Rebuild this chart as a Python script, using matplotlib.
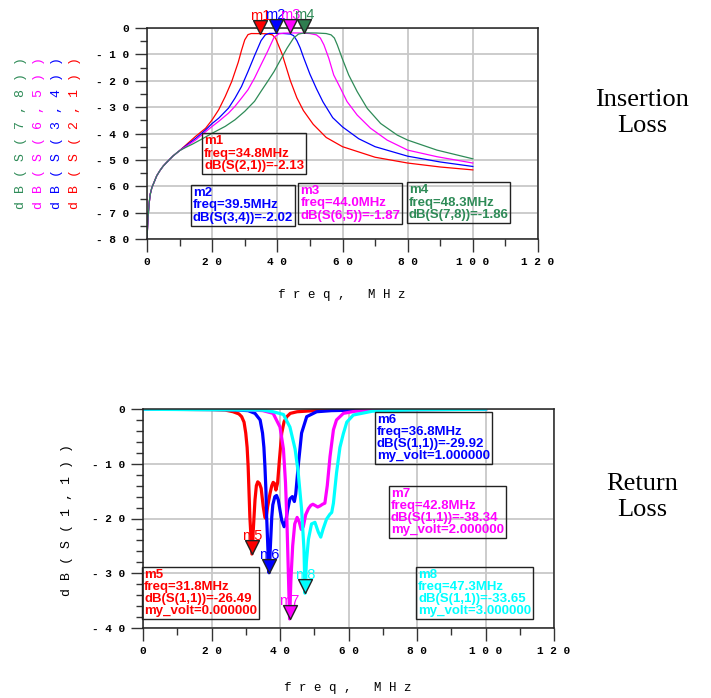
import matplotlib
matplotlib.use("Agg")
import matplotlib.pyplot as plt

# ---- insertion loss traces, freq in MHz, values in dB ----
f_low = [0, 0.3, 0.7, 1, 1.5, 2, 3, 4, 5, 6, 8, 10]
db_low = [-80, -72, -66, -63, -60.5, -59, -56, -54, -52.3, -51, -48.5, -46.5]

f_s21 = f_low + [12, 15, 18, 20, 22, 24, 26, 28, 29, 30, 31, 32, 34.8, 37, 38.5,
                 39.5, 40.5, 41.5, 42.5, 44, 46, 48, 51, 55, 60, 65, 70, 80, 90, 100]
db_s21 = db_low + [-44.3, -41, -38, -34.8, -31, -26, -20.3, -13, -8.5, -4.5, -2.5, -2.1,
                   -2.13, -2.2, -2.6, -4, -7, -10, -14, -20, -26.5, -31.3, -36.5, -41.5,
                   -45, -47, -49, -51.2, -52.7, -53.8]

f_s34 = f_low + [12, 15, 18, 20, 22, 25, 27, 29, 31, 33, 35, 36.3, 37.5, 39.5, 42, 44,
                 45, 46, 47, 48, 50, 52, 54, 57, 60, 65, 70, 80, 90, 100]
db_s34 = db_low + [-44.6, -41.8, -38.6, -36.2, -34.2, -30.4, -26.6, -22.2, -16.5, -10.5,
                   -4.8, -2.6, -2.05, -2.02, -2.1, -2.3, -2.9, -4.8, -7.5, -11, -17.5, -23,
                   -28, -34, -37.5, -42, -45, -48.6, -50.8, -52.5]

f_s65 = f_low + [12, 15, 17, 20, 22, 25, 27, 29, 31, 33, 35, 37, 39, 40.5, 42, 44, 47,
                 50, 52, 53.2, 54.3, 55.8, 57.3, 59.4, 61.4, 64.5, 68.6, 73.7, 80, 89, 100]
db_s65 = db_low + [-44.9, -42.4, -40.3, -37.3, -35.4, -32.3, -29.7, -26.6, -23.4, -19,
                   -13.9, -8.9, -3.5, -2.2, -1.95, -1.87, -1.9, -2.1, -2.6, -3.8, -6.4,
                   -11.5, -17.8, -22.9, -27.9, -33, -38, -42.5, -46.3, -48.8, -51.2]

f_s78 = f_low + [12, 14, 17, 20, 24, 27, 30, 33, 35, 37, 39, 41, 43, 45, 46.5, 48.3, 52,
                 55, 56.5, 57.5, 58.4, 59.9, 61.9, 64.5, 67.6, 71.7, 76.8, 80, 89, 100]
db_s78 = db_low + [-45.2, -44, -42, -39.9, -37.3, -34.8, -31.6, -27.8, -24, -20.3, -16.5,
                   -12, -7.6, -3.8, -2.3, -1.86, -1.9, -2.1, -2.6, -3.8, -6.4, -11.5, -17.8,
                   -24.1, -30.5, -36.2, -40.6, -42.5, -46.3, -49.6]

# ---- return loss traces dB(S(1,1)) for my_volt = 0, 1, 2, 3 ----
f_v0 = [0, 20, 24, 26.3, 28, 28.8, 29.5, 30, 30.4, 30.7, 31.2, 31.8, 32.3, 32.7, 33.1,
        33.5, 34, 34.5, 35.1, 35.6, 35.9, 36.4, 37.1, 37.6, 38, 38.4, 38.8, 39.3, 39.8,
        40.5, 41.2, 42, 43, 45, 50, 60, 100]
db_v0 = [-0.05, -0.1, -0.2, -0.5, -0.9, -1.4, -2.4, -4.4, -7, -10.5, -19.7, -26.49, -21,
         -16.6, -14, -13.3, -13.6, -14.5, -17.8, -19.8, -20, -17.8, -15.4, -14, -13.4,
         -13.6, -14.8, -13.5, -9.5, -4.4, -2.3, -1.4, -0.8, -0.5, -0.3, -0.15, -0.05]

f_v1 = [0, 25, 30.7, 32.7, 34.2, 34.9, 35.3, 35.6, 35.9, 36.1, 36.5, 36.8, 37.2, 37.6,
        37.9, 38.5, 39, 39.5, 40, 40.5, 41.2, 41.7, 42.2, 42.9, 43.6, 44.2, 44.6, 45.3,
        46.3, 47.8, 50.7, 55, 70, 100]
db_v1 = [-0.05, -0.1, -0.3, -0.8, -2, -4.4, -7, -10.5, -15, -19.7, -26, -29.92, -25,
         -19.7, -17.5, -16, -15.8, -16.6, -18.5, -20.3, -21.5, -20.5, -18.5, -16.4, -16,
         -16.9, -15.5, -10.5, -4.4, -1.4, -0.5, -0.3, -0.1, -0.05]

f_v2 = [0, 30, 35, 38, 40, 41, 41.6, 42, 42.4, 42.8, 43.2, 43.7, 44.3, 45, 45.6, 46.2,
        46.8, 47.5, 48.3, 49, 49.6, 50.2, 51, 51.7, 52.4, 53.1, 53.8, 54.6, 55.6, 56.5,
        58.5, 62, 70, 100]
db_v2 = [-0.05, -0.1, -0.3, -0.8, -3.3, -7.3, -13.4, -20, -29, -38.34, -31, -25, -21,
         -19.8, -20.6, -22, -21.5, -19.3, -18.2, -17.6, -17.4, -17.6, -17.9, -17.7, -17.4,
         -17.2, -14, -8.7, -3.8, -2, -0.8, -0.4, -0.15, -0.05]

f_v3 = [0, 35, 38, 41, 42.9, 44.4, 45.3, 46.3, 47, 47.3, 47.7, 48.3, 49.2, 50.2, 51.2,
        51.9, 52.6, 53.6, 54.6, 55.1, 55.6, 56.5, 57.5, 58.5, 59.5, 61.4, 67, 80, 100]
db_v3 = [-0.05, -0.2, -0.5, -1.0, -3.3, -7.3, -11.5, -18.3, -25.6, -33.65, -28, -23.8,
         -21, -20.7, -22.5, -23.4, -21.9, -20.1, -19.2, -18.9, -17.2, -11.7, -7, -4.5,
         -2.4, -1.1, -0.4, -0.15, -0.05]

# marker readouts
il_names = ["m1", "m2", "m3", "m4"]
il_traces = ["dB(S(2,1))", "dB(S(3,4))", "dB(S(6,5))", "dB(S(7,8))"]
il_freq = [34.8, 39.5, 44.0, 48.3]
il_val = [-2.13, -2.02, -1.87, -1.86]

rl_names = ["m5", "m6", "m7", "m8"]
rl_freq = [31.8, 36.8, 42.8, 47.3]
rl_val = [-26.49, -29.92, -38.34, -33.65]
my_volt = [0, 1, 2, 3]

x_ticks = [0, 20, 40, 60, 80, 100, 120]
x_ticklabels = ["0", "2 0", "4 0", "6 0", "8 0", "1 0 0", "1 2 0"]
il_yticks = [0, -10, -20, -30, -40, -50, -60, -70, -80]
il_yticklabels = ["0", "- 1 0", "- 2 0", "- 3 0", "- 4 0", "- 5 0", "- 6 0", "- 7 0", "- 8 0"]
rl_yticks = [0, -10, -20, -30, -40]
rl_yticklabels = ["0", "- 1 0", "- 2 0", "- 3 0", "- 4 0"]

RED, BLUE, MAG, GRN, CYN = "#ff0000", "#0000ff", "#ff00ff", "#2e8b57", "#00ffff"
il_colors = [RED, BLUE, MAG, GRN]
rl_colors = [RED, BLUE, MAG, CYN]

mono = "Liberation Mono"
sans = "Liberation Sans"

fig = plt.figure(figsize=(7.11, 6.98), dpi=100)
ax1 = fig.add_axes([147 / 711, 1 - 239 / 698, 391 / 711, 211 / 698])
ax2 = fig.add_axes([143 / 711, 1 - 628 / 698, 411 / 711, 219 / 698])


def style(ax, yticks, ylabels, yminor):
    ax.set_xlim(0, 120)
    ax.set_ylim(yticks[-1], 0)
    ax.set_xticks(x_ticks)
    ax.set_xticklabels(x_ticklabels, fontfamily=mono, fontweight="bold", fontsize=8)
    ax.set_xticks(range(0, 121, 10), minor=True)
    ax.set_yticks(yticks)
    ax.set_yticklabels(ylabels, fontfamily=mono, fontweight="bold", fontsize=8)
    ax.set_yticks(yminor, minor=True)
    ax.grid(which="major", color="#c8c8c8", lw=1.3)
    ax.tick_params(which="major", direction="out", length=9, width=1, pad=4, color="#333")
    ax.tick_params(which="minor", direction="out", length=5, width=1, color="#333")
    for s in ax.spines.values():
        s.set_color("#222")
        s.set_linewidth(1.1)


style(ax1, il_yticks, il_yticklabels, range(-80, 1, 5))
style(ax2, rl_yticks, rl_yticklabels, range(-40, 1, 2))

# traces
for f, d, c in zip([f_s21, f_s34, f_s65, f_s78], [db_s21, db_s34, db_s65, db_s78], il_colors):
    ax1.plot(f, d, color=c, lw=0.9)
for f, d, c in zip([f_v0, f_v1, f_v2, f_v3], [db_v0, db_v1, db_v2, db_v3], rl_colors):
    ax2.plot(f, d, color=c, lw=2.3)

# down triangle with its tip on the data point
tri = [(0, 0), (-0.5, 1), (0.5, 1), (0, 0)]


def marker(ax, f, v, color, name, face=None):
    ax.plot([f], [v], marker=tri, ms=20, mfc=face or color, mec="#222", mew=1,
            clip_on=False, zorder=6)
    ax.annotate(name, (f, v), xytext=(0, 8), textcoords="offset points", ha="center",
                va="bottom", color=color, fontsize=10.5, fontfamily=sans,
                annotation_clip=False, zorder=7)


for i in range(4):
    face = "#2e7d4f" if i == 3 else None
    marker(ax1, il_freq[i], il_val[i], il_colors[i], il_names[i], face)
    marker(ax2, rl_freq[i], rl_val[i], rl_colors[i], rl_names[i])

# readout boxes (top-left corner in data coords)
il_box = [(17.5, -40.6), (14.1, -60.2), (47.1, -59.5), (80.3, -59.2)]
for i in range(4):
    txt = f"{il_names[i]}\nfreq={il_freq[i]:.1f}MHz\n{il_traces[i]}={il_val[i]:.2f}"
    ax1.text(il_box[i][0], il_box[i][1], txt, color=il_colors[i], fontsize=9.5,
             fontweight="bold", fontfamily=sans, ha="left", va="top", linespacing=1.05,
             bbox=dict(boxstyle="square,pad=0.15", fc="none", ec="#222", lw=1),
             clip_on=False, zorder=8)

rl_box = [(0.3, -29.2), (68.3, -0.9), (72.4, -14.4), (80.3, -29.2)]
for i in range(4):
    txt = (f"{rl_names[i]}\nfreq={rl_freq[i]:.1f}MHz\ndB(S(1,1))={rl_val[i]:.2f}"
           f"\nmy_volt={my_volt[i]:.6f}")
    ax2.text(rl_box[i][0], rl_box[i][1], txt, color=rl_colors[i], fontsize=9.5,
             fontweight="bold", fontfamily=sans, ha="left", va="top", linespacing=1.02,
             bbox=dict(boxstyle="square,pad=0.15", fc="none", ec="#222", lw=1),
             clip_on=False, zorder=8)

# axis titles
fig.text(342 / 711, 1 - 295 / 698, "f r e q ,   M H z", fontfamily=mono, fontsize=9,
         ha="center", va="center")
fig.text(348 / 711, 1 - 688 / 698, "f r e q ,   M H z", fontfamily=mono, fontsize=9,
         ha="center", va="center")
for xpix, name, c in zip([75, 57, 39, 21], il_traces, il_colors):
    fig.text(xpix / 711, 1 - 133 / 698, " ".join(name), rotation=90, color=c,
             fontfamily=mono, fontsize=9.5, ha="center", va="center")
fig.text(67 / 711, 1 - 520 / 698, " ".join("dB(S(1,1))"), rotation=90,
         fontfamily=mono, fontsize=9.5, ha="center", va="center")

fig.text(642 / 711, 1 - 113 / 698, "Insertion\nLoss", fontfamily="Liberation Serif",
         fontsize=19, ha="center", va="center", linespacing=1.25)
fig.text(642 / 711, 1 - 497 / 698, "Return\nLoss", fontfamily="Liberation Serif",
         fontsize=19, ha="center", va="center", linespacing=1.25)

fig.savefig("out.png", dpi=100)
